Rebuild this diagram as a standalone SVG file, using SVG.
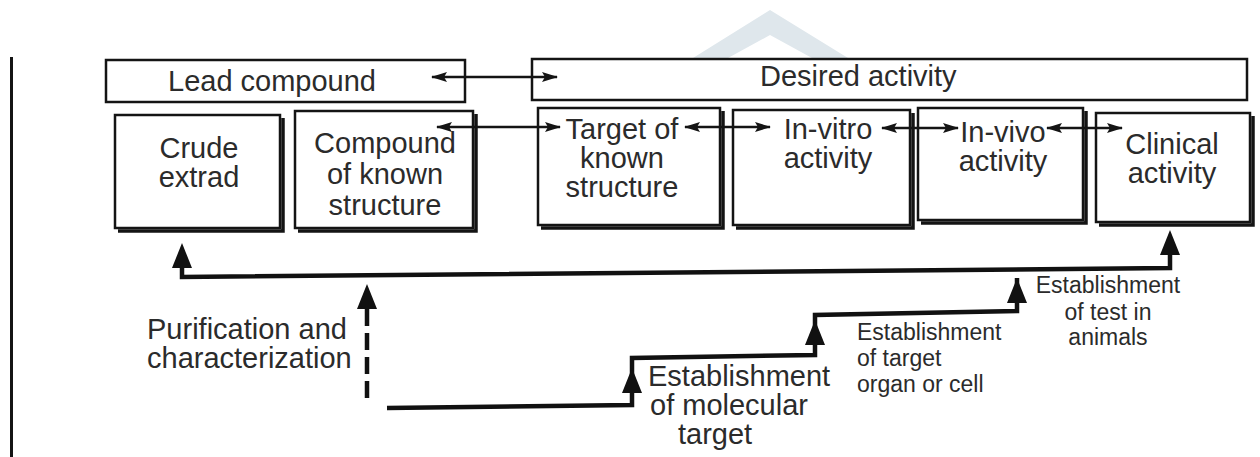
<svg xmlns="http://www.w3.org/2000/svg" width="1260" height="457" viewBox="0 0 1260 457">
<style>
.box{fill:#fff;stroke:#141414;stroke-width:2.5}
.shadow{fill:none;stroke:#141414;stroke-width:3.5}
.t{font-family:"Liberation Sans",Arial,Helvetica,sans-serif;font-size:29px;fill:#2b2b2b}
.m{text-anchor:middle}
.s{font-size:23px}
.thin{fill:none;stroke:#141414;stroke-width:2.5;marker-start:url(#ah);marker-end:url(#ah)}
.thick{fill:none;stroke:#111;stroke-width:4.5;stroke-linejoin:miter}
.dash{fill:none;stroke:#111;stroke-width:4.5;stroke-dasharray:17 7}
.head{fill:#111}
</style>
<defs>
<marker id="ah" viewBox="0 0 16 10" refX="15" refY="5" markerWidth="16" markerHeight="10" markerUnits="userSpaceOnUse" orient="auto-start-reverse">
<path d="M0,0 L16,5 L0,10 L3,5 Z" fill="#141414"/>
</marker>
<path id="up" d="M0,0 L10,25 L-10,25 Z"/>
</defs>
<rect width="1260" height="457" fill="#fff"/>
<polygon points="693,58 770,10 848,58 812,58 770,35 728,58" fill="#dfe7ec"/>
<line x1="11.5" y1="57" x2="11.5" y2="457" stroke="#141414" stroke-width="3"/>

<g id="lead">
<rect class="box" x="106" y="60" width="359" height="42"/>
<text class="t" x="168" y="91">Lead compound</text>
</g>
<g id="desired">
<rect class="box" x="532" y="59" width="715" height="41"/>
<text class="t" x="760" y="86">Desired activity</text>
</g>

<g id="crude">
<rect class="box" x="115" y="115" width="165" height="113"/>
<path class="shadow" d="M283,118 V231 H118"/>
<text class="t m" x="199" y="158">Crude</text>
<text class="t m" x="199" y="187">extrad</text>
</g>
<g id="compound">
<rect class="box" x="295" y="111" width="178" height="117"/>
<path class="shadow" d="M476,114 V231 H298"/>
<text class="t m" x="385" y="153">Compound</text>
<text class="t m" x="385" y="184">of known</text>
<text class="t m" x="385" y="215">structure</text>
</g>
<g id="target">
<rect class="box" x="538" y="108" width="182" height="117"/>
<path class="shadow" d="M723,111 V228 H541"/>
<text class="t m" x="622" y="139">Target of</text>
<text class="t m" x="622" y="168">known</text>
<text class="t m" x="622" y="197">structure</text>
</g>
<g id="invitro">
<rect class="box" x="733" y="110" width="177" height="115"/>
<path class="shadow" d="M913,113 V228 H736"/>
<text class="t m" x="828" y="139">In-vitro</text>
<text class="t m" x="828" y="168">activity</text>
</g>
<g id="invivo">
<rect class="box" x="918" y="108" width="165" height="112"/>
<path class="shadow" d="M1086,111 V223 H921"/>
<text class="t m" x="1003" y="142">In-vivo</text>
<text class="t m" x="1003" y="171">activity</text>
</g>
<g id="clinical">
<rect class="box" x="1096" y="113" width="154" height="109"/>
<path class="shadow" d="M1253,116 V225 H1099"/>
<text class="t m" x="1172" y="154">Clinical</text>
<text class="t m" x="1172" y="183">activity</text>
</g>

<g id="connectors">
<line class="thin" x1="432" y1="77" x2="557" y2="77"/>
<line class="thin" x1="437" y1="127" x2="560" y2="127"/>
<line class="thin" x1="685" y1="127" x2="770" y2="127"/>
<line class="thin" x1="882" y1="128" x2="958" y2="128"/>
<line class="thin" x1="1047" y1="128" x2="1122" y2="128"/>

<path class="thick" d="M182,262 L182,277 L1170,268 L1170,252"/>
<use href="#up" class="head" x="182" y="243"/>
<use href="#up" class="head" x="1170" y="230"/>

<line class="dash" x1="367" y1="398" x2="367" y2="306"/>
<use href="#up" class="head" x="367" y="284"/>

<path class="thick" d="M387,408 L632,405 L632,358 L815,355 L815,315 L1017,311 L1017,278"/>
<use href="#up" class="head" x="632" y="368"/>
<use href="#up" class="head" x="815" y="320"/>
<use href="#up" class="head" x="1017" y="278"/>

<g id="labels">
<text class="t" x="147" y="339">Purification and</text>
<text class="t" x="147" y="368">characterization</text>
<text class="t" x="648" y="386">Establishment</text>
<text class="t" x="650" y="415">of molecular</text>
<text class="t" x="678" y="444">target</text>
<text class="t s" x="857" y="340">Establishment</text>
<text class="t s" x="857" y="366">of target</text>
<text class="t s" x="857" y="392">organ or cell</text>
<text class="t s m" x="1108" y="293">Establishment</text>
<text class="t s m" x="1108" y="320">of test in</text>
<text class="t s m" x="1108" y="345">animals</text>
</g>
</g>
</svg>
